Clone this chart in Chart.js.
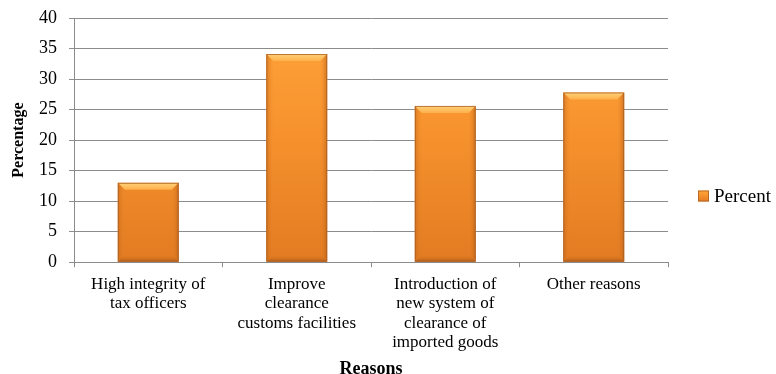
<!DOCTYPE html>
<html>
<head>
<meta charset="utf-8">
<script src="https://cdn.jsdelivr.net/npm/chart.js@4/dist/chart.umd.min.js"></script>
<style>
  html, body { margin: 0; padding: 0; background: #ffffff; }
  #wrap { width: 776px; height: 374px; }
</style>
</head>
<body>
<div id="wrap"><canvas id="c" width="776" height="374"></canvas></div>
<script>
// Reasons (multi-line category labels) and their percentages
const categories = [
  ['High integrity of', 'tax officers'],
  ['Improve', 'clearance', 'customs facilities'],
  ['Introduction of', 'new system of', 'clearance of', 'imported goods'],
  ['Other reasons']
];
const percentValues = [13.0, 34.1, 25.6, 27.8];
const yTicks = [0, 5, 10, 15, 20, 25, 30, 35, 40];
const seriesName = 'Percent';

const FONT = '"Liberation Serif", "Times New Roman", serif';

function barFill(ctx, top, bottom) {
  const g = ctx.createLinearGradient(0, top, 0, bottom);
  g.addColorStop(0, '#FFA43A');
  g.addColorStop(0.45, '#F7932E');
  g.addColorStop(1, '#E27B22');
  return g;
}

// Bevelled edges drawn over each bar element
const bevelPlugin = {
  id: 'bevel',
  afterDatasetsDraw(chart) {
    const ctx = chart.ctx;
    chart.getDatasetMeta(0).data.forEach(bar => {
      const p = bar.getProps(['x', 'y', 'base', 'width'], true);
      const l = p.x - p.width / 2, r = p.x + p.width / 2;
      const t = p.y, b = p.base;
      const e = Math.min(7, (b - t) / 3);
      ctx.save();
      // top highlight
      let g = ctx.createLinearGradient(0, t, 0, t + e);
      g.addColorStop(0, '#FFD27A');
      g.addColorStop(1, '#FFB04A');
      ctx.fillStyle = g;
      ctx.beginPath();
      ctx.moveTo(l, t); ctx.lineTo(r, t); ctx.lineTo(r - e, t + e); ctx.lineTo(l + e, t + e);
      ctx.closePath(); ctx.fill();
      // left edge
      g = ctx.createLinearGradient(l, 0, l + e, 0);
      g.addColorStop(0, 'rgba(190,100,25,0.55)');
      g.addColorStop(1, 'rgba(230,130,40,0.0)');
      ctx.fillStyle = g;
      ctx.beginPath();
      ctx.moveTo(l, t); ctx.lineTo(l + e, t + e); ctx.lineTo(l + e, b - e); ctx.lineTo(l, b);
      ctx.closePath(); ctx.fill();
      // right edge
      g = ctx.createLinearGradient(r, 0, r - e, 0);
      g.addColorStop(0, 'rgba(175,90,20,0.6)');
      g.addColorStop(1, 'rgba(230,130,40,0.0)');
      ctx.fillStyle = g;
      ctx.beginPath();
      ctx.moveTo(r, t); ctx.lineTo(r - e, t + e); ctx.lineTo(r - e, b - e); ctx.lineTo(r, b);
      ctx.closePath(); ctx.fill();
      // bottom edge
      g = ctx.createLinearGradient(0, b, 0, b - e);
      g.addColorStop(0, 'rgba(160,80,20,0.7)');
      g.addColorStop(1, 'rgba(220,120,35,0.0)');
      ctx.fillStyle = g;
      ctx.beginPath();
      ctx.moveTo(l, b); ctx.lineTo(l + e, b - e); ctx.lineTo(r - e, b - e); ctx.lineTo(r, b);
      ctx.closePath(); ctx.fill();
      // outline
      ctx.strokeStyle = 'rgba(170,95,35,0.8)';
      ctx.lineWidth = 1;
      ctx.strokeRect(l + 0.5, t + 0.5, p.width - 1, b - t - 1);
      ctx.restore();
    });
  }
};

// Legend entry to the right of the plot
const sideLegend = {
  id: 'sideLegend',
  afterDraw(chart) {
    const ctx = chart.ctx;
    const x = chart.chartArea.right + 30;
    const yc = chart.height / 2 + 9;
    const s = 11;
    ctx.save();
    ctx.fillStyle = barFill(ctx, yc - s / 2, yc + s / 2);
    ctx.fillRect(x, yc - s / 2, s, s);
    ctx.strokeStyle = 'rgba(170,95,35,0.8)';
    ctx.strokeRect(x + 0.5, yc - s / 2 + 0.5, s - 1, s - 1);
    ctx.fillStyle = '#000';
    ctx.font = '19px ' + FONT;
    ctx.textBaseline = 'middle';
    ctx.fillText(chart.data.datasets[0].label, x + s + 5, yc + 1);
    ctx.restore();
  }
};

new Chart(document.getElementById('c'), {
  type: 'bar',
  data: {
    labels: categories,
    datasets: [{
      label: seriesName,
      data: percentValues,
      backgroundColor: (c) => {
        const area = c.chart.chartArea;
        if (!area) return '#F7932E';
        return barFill(c.chart.ctx, area.top, area.bottom);
      },
      borderWidth: 0,
      barPercentage: 0.41,
      categoryPercentage: 1.0
    }]
  },
  options: {
    responsive: false,
    animation: false,
    layout: { padding: { top: 3, right: 108, left: 11, bottom: 0 } },
    plugins: {
      legend: { display: false },
      tooltip: { enabled: false }
    },
    scales: {
      x: {
        offset: true,
        grid: {
          offset: true,
          drawOnChartArea: false,
          drawTicks: true,
          tickLength: 5,
          color: '#8c8c8c'
        },
        border: { display: true, color: '#8c8c8c', width: 1 },
        ticks: {
          color: '#000',
          font: { family: FONT, size: 17, lineHeight: '19.2px' },
          padding: 8,
          maxRotation: 0,
          autoSkip: false
        },
        title: {
          display: true,
          text: 'Reasons',
          color: '#000',
          font: { family: FONT, size: 18, weight: 'bold', lineHeight: 1 },
          padding: { top: 0, bottom: -4 }
        }
      },
      y: {
        min: 0,
        max: 40,
        afterBuildTicks: (axis) => { axis.ticks = yTicks.map(v => ({ value: v })); },
        grid: {
          color: '#8c8c8c',
          tickLength: 5,
          lineWidth: 1
        },
        border: { display: true, color: '#8c8c8c', width: 1 },
        ticks: {
          color: '#000',
          font: { family: FONT, size: 18, lineHeight: '12px' },
          padding: 12
        },
        title: {
          display: true,
          text: 'Percentage',
          color: '#000',
          font: { family: FONT, size: 16, weight: 'bold', lineHeight: 1 },
          padding: { top: 0, bottom: 0 }
        }
      }
    }
  },
  plugins: [bevelPlugin, sideLegend]
});
</script>
</body>
</html>
